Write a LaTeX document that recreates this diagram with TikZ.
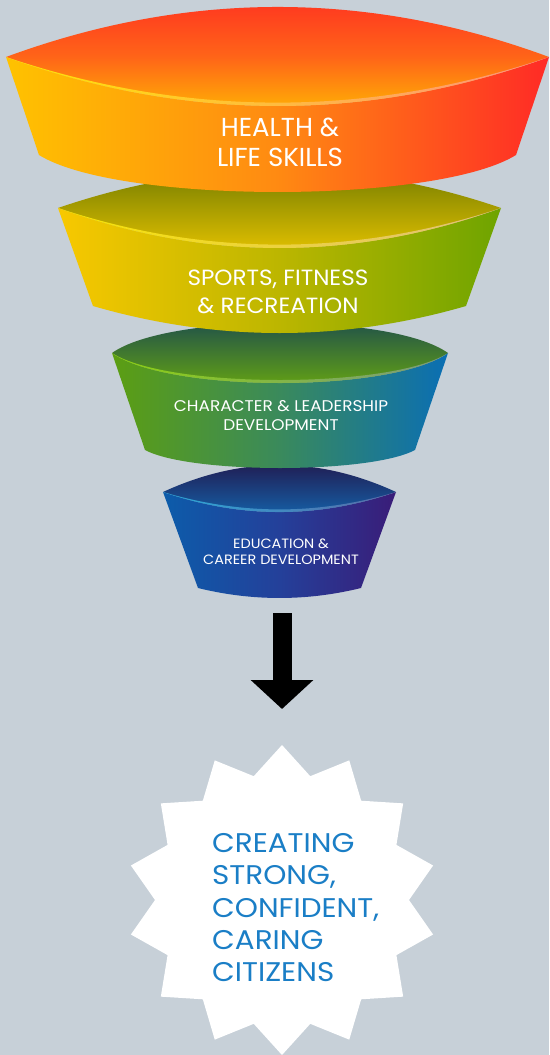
\documentclass[tikz,border=0pt]{standalone}
\usepackage{fontspec}
\newfontfamily\popp{Poppins}
\newfontfamily\poppB{Poppins}[FakeStretch=1.05]
\newfontfamily\poppC{Poppins}[FakeStretch=1.09]
\newfontfamily\poppD{Poppins}[FakeStretch=1.07]
\newfontfamily\poppS{Poppins}[FakeStretch=1.09]
\usetikzlibrary{arrows.meta}
\definecolor{bgc}{HTML}{C7D0D8}
\definecolor{starblue}{HTML}{1A7EC6}
% layer 4
\definecolor{dTopA}{HTML}{221448}\definecolor{dTopB}{HTML}{1464AC}
\definecolor{dFrL}{HTML}{0C5CAA}\definecolor{dFrM}{HTML}{24409A}\definecolor{dFrR}{HTML}{3A1C78}
\definecolor{dHlL}{HTML}{2AA8D8}\definecolor{dHlR}{HTML}{5A6AA8}
% layer 3
\definecolor{cTopA}{HTML}{184850}\definecolor{cTopB}{HTML}{6AAA0E}
\definecolor{cFrL}{HTML}{5C9E12}\definecolor{cFrM}{HTML}{3A8A5C}\definecolor{cFrR}{HTML}{0A6EB4}
\definecolor{cHlL}{HTML}{8CD010}\definecolor{cHlR}{HTML}{7A9A80}
% layer 2
\definecolor{bTopA}{HTML}{667400}\definecolor{bTopB}{HTML}{EEC800}
\definecolor{bFrL}{HTML}{F8C800}\definecolor{bFrM}{HTML}{BCB600}\definecolor{bFrR}{HTML}{6EA400}
\definecolor{bHlL}{HTML}{F8E400}\definecolor{bHlR}{HTML}{E0C080}
% layer 1
\definecolor{aTopA}{HTML}{FF2E22}\definecolor{aTopM}{HTML}{FF6418}\definecolor{aTopB}{HTML}{FFC000}
\definecolor{aFrL}{HTML}{FFC200}\definecolor{aFrM}{HTML}{FF8A12}\definecolor{aFrR}{HTML}{FF2A26}
\definecolor{aHlL}{HTML}{FFE600}\definecolor{aHlR}{HTML}{FF9080}
\tikzset{
  lbl/.style={text=white, align=center, inner sep=0pt},
  hlband/.style={draw=none},
}
\begin{document}
\begin{tikzpicture}[x=1pt,y=-1pt]
\useasboundingbox (0,0) rectangle (549,1055);
\fill[bgc] (0,0) rectangle (549,1055);

% ---- layer 4 (education)
\shade[top color=dTopA, bottom color=dTopB] (163,492) .. controls (241.2,456) and (317.8,456) .. (396,492) .. controls (317.8,518.7) and (241.2,518.7) .. (163,492) -- cycle;
\shade[left color=dFrL, right color=dFrR, middle color=dFrM] (163,492) .. controls (241.2,518.7) and (317.8,518.7) .. (396,492) -- (361,588) .. controls (306.8,601.3) and (252.2,601.3) .. (198,588) -- cycle;
\shade[hlband, left color=dHlL, right color=dHlR] (163,492) .. controls (241.2,518.7) and (317.8,518.7) .. (396,492) .. controls (317.8,515.2) and (241.2,515.2) .. (163,492) -- cycle;

% ---- layer 3 (character)
\shade[top color=cTopA, bottom color=cTopB] (112,353) .. controls (168,313) and (392,313) .. (448,353) .. controls (392,393) and (168,393) .. (112,353) -- cycle;
\shade[left color=cFrL, right color=cFrR, middle color=cFrM] (112,353) .. controls (168,393) and (392,393) .. (448,353) -- (415,450) .. controls (370,474) and (190,474) .. (145,450) -- cycle;
\shade[hlband, left color=cHlL, right color=cHlR] (112,353) .. controls (168,393) and (392,393) .. (448,353) .. controls (392,389) and (168,389) .. (112,353) -- cycle;

% ---- layer 2 (sports)
\shade[top color=bTopA, bottom color=bTopB] (58,208) .. controls (205.7,157.3) and (353.3,157.3) .. (501,208) .. controls (353.3,261.3) and (205.7,261.3) .. (58,208) -- cycle;
\shade[left color=bFrL, right color=bFrR, middle color=bFrM] (58,208) .. controls (205.7,261.3) and (353.3,261.3) .. (501,208) -- (466,306) .. controls (341.8,342) and (217.2,342) .. (93,306) -- cycle;
\shade[hlband, left color=bHlL, right color=bHlR] (58,208) .. controls (205.7,261.3) and (353.3,261.3) .. (501,208) .. controls (353.3,256.8) and (205.7,256.8) .. (58,208) -- cycle;

% ---- layer 1 (health)
\shade[top color=aTopA, bottom color=aTopB, middle color=aTopM] (6,57) .. controls (187,-9.7) and (368.5,-9.7) .. (549,57) .. controls (368.5,122.3) and (187,122.3) .. (6,57) -- cycle;
\shade[left color=aFrL, right color=aFrR, middle color=aFrM] (6,57) .. controls (187,122.3) and (368.5,122.3) .. (549,57) -- (516,155) .. controls (436.5,204.3) and (118.5,204.3) .. (39,155) -- cycle;
\shade[hlband, left color=aHlL, right color=aHlR] (6,57) .. controls (187,122.3) and (368.5,122.3) .. (549,57) .. controls (368.5,117.8) and (187,117.8) .. (6,57) -- cycle;

% ---- labels
\node[lbl, font={\popp\fontsize{26}{30}\selectfont}] (health) at (280,142.5) {HEALTH \&\\LIFE SKILLS};
\node[lbl, font={\poppB\fontsize{22}{27.5}\selectfont}] (sports) at (278,292) {SPORTS, FITNESS\\\& RECREATION};
\node[lbl, font={\poppC\fontsize{15.5}{19.5}\selectfont}] (character) at (281,415.5) {CHARACTER \& LEADERSHIP\\DEVELOPMENT};
\node[lbl, font={\poppD\fontsize{13.5}{16}\selectfont}] (education) at (281,551.5) {EDUCATION \&\\CAREER DEVELOPMENT};

% ---- arrow
\coordinate (arrowstart) at (282,613);
\coordinate (arrowend) at (282,709);
\draw[line width=19pt, -{Triangle[width=61pt,length=29pt]}] (arrowstart) -- (arrowend);

% ---- star
\coordinate (starc) at (282,900);
\begin{scope}[shift={(starc)}]
\fill[white] (90:155) \foreach \i [evaluate=\i as \rad using {mod(\i,2)==0 ? 155 : 127}] in {1,...,27} { -- ({90+\i*360/28}:\rad) } -- cycle;
\end{scope}
\node[text=starblue, align=left, inner sep=0pt, anchor=north west, font={\poppS\fontsize{27}{32.4}\selectfont}] (goal) at (212,833) {CREATING\\STRONG,\\CONFIDENT,\\CARING\\CITIZENS};
\end{tikzpicture}
\end{document}
